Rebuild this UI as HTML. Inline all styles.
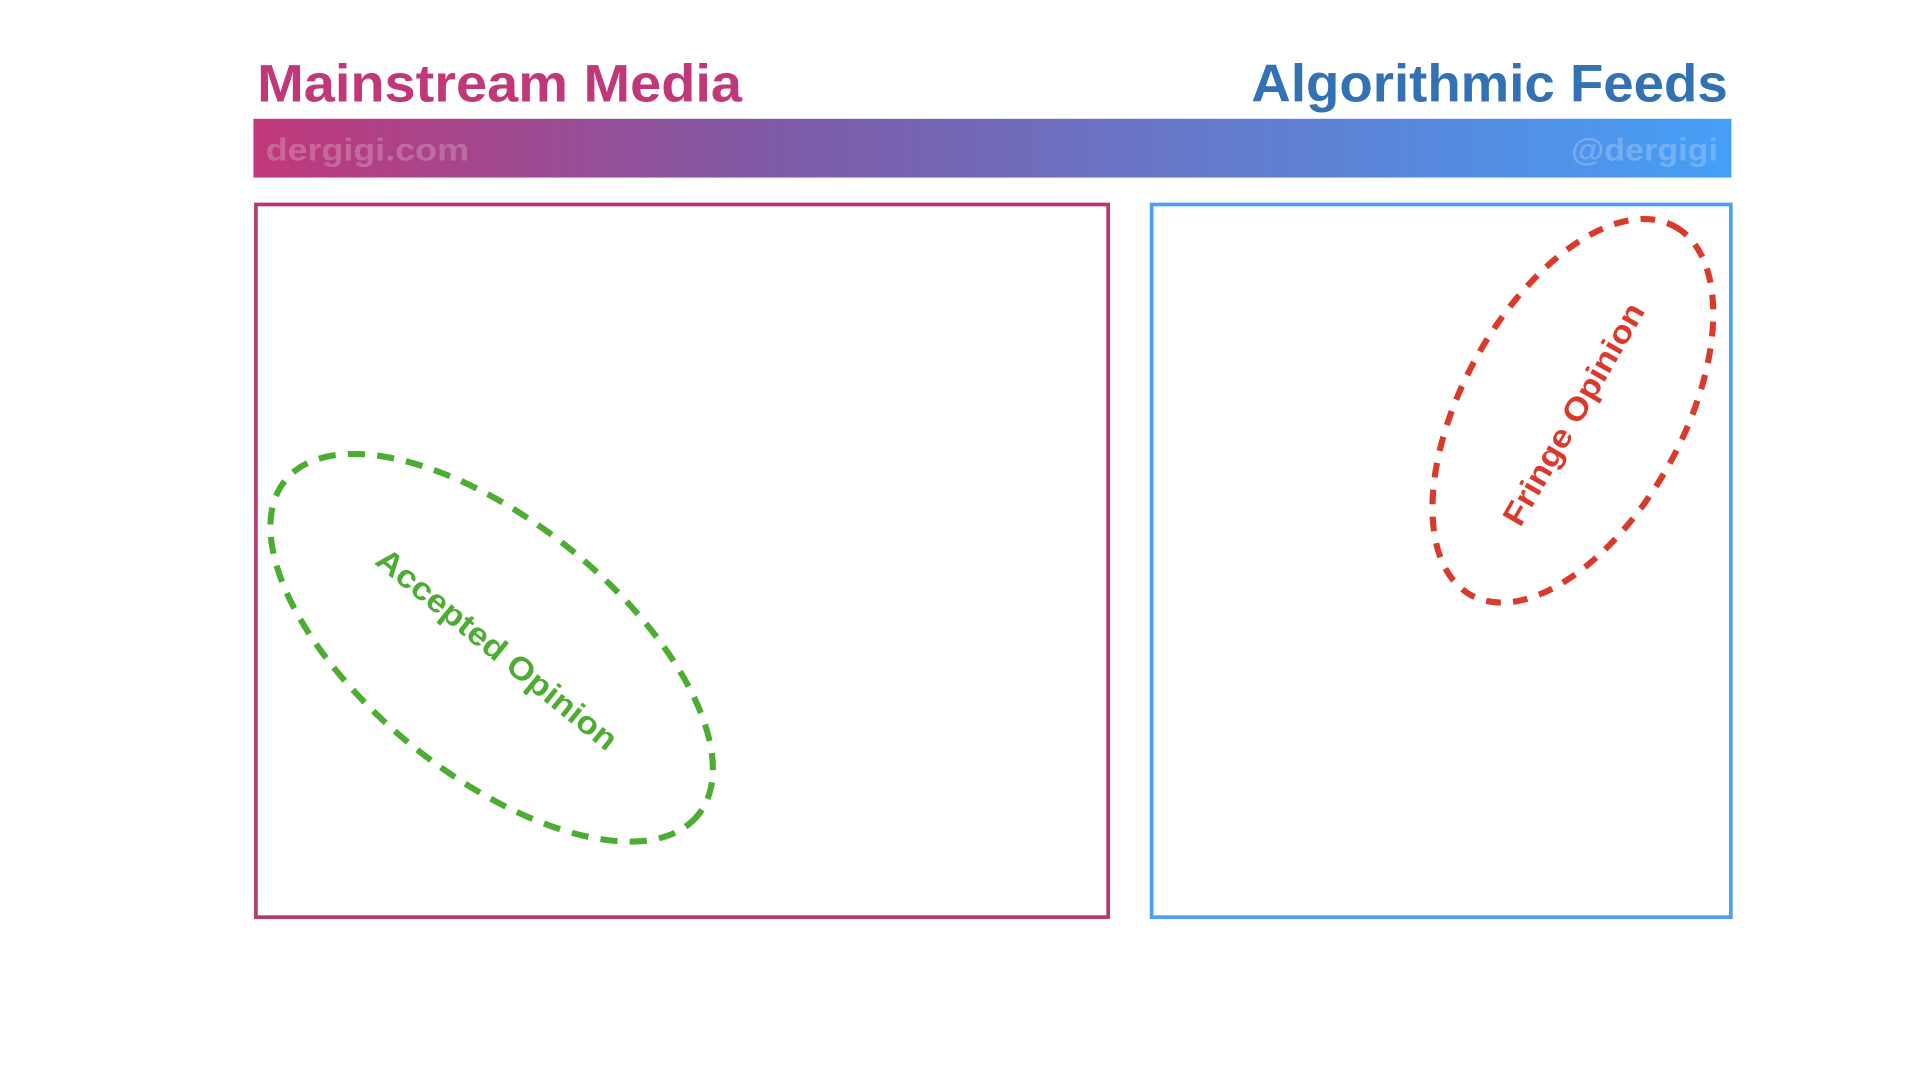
<!DOCTYPE html>
<html><head><meta charset="utf-8"><style>
html,body{margin:0;padding:0;background:#fff;width:1920px;height:1080px;overflow:hidden}
#w{width:1568px;height:882px;transform:scale(1.22449);transform-origin:0 0;position:relative}
svg{position:absolute;left:0;top:0}
text{font-family:"Liberation Sans",sans-serif;font-weight:bold}
</style></head><body><div id="w">
<svg width="1568" height="882" viewBox="0 0 1568 882">
<defs><linearGradient id="g" x1="0" x2="1" y1="0" y2="0"><stop offset="0" stop-color="#c0387a"/><stop offset="0.35" stop-color="#7f5aa6"/><stop offset="1" stop-color="#459ff7"/></linearGradient></defs>
<text x="210" y="83" font-size="43" fill="#c0387a" textLength="396" lengthAdjust="spacingAndGlyphs">Mainstream Media</text>
<text x="1022" y="83" font-size="43" fill="#3371b5" textLength="389" lengthAdjust="spacingAndGlyphs">Algorithmic Feeds</text>
<rect x="207" y="97" width="1207" height="48" fill="url(#g)"/>
<text x="217" y="131" font-size="26" fill="#fff" fill-opacity="0.22" textLength="166" lengthAdjust="spacingAndGlyphs">dergigi.com</text>
<text x="1283" y="131" font-size="26" fill="#fff" fill-opacity="0.22" textLength="120" lengthAdjust="spacingAndGlyphs">@dergigi</text>
<rect x="209" y="167" width="696" height="582" fill="none" stroke="#b8376f" stroke-width="3"/>
<rect x="940.5" y="167" width="473" height="582" fill="none" stroke="#4a9ff5" stroke-width="3"/>
<ellipse cx="401.5" cy="529" rx="217" ry="103" transform="rotate(39 401.5 529)" fill="none" stroke="#4dad33" stroke-width="5" stroke-dasharray="14 10"/>
<text x="406" y="539" font-size="26" fill="#4dad33" text-anchor="middle" transform="rotate(39 406 530)" textLength="245" lengthAdjust="spacingAndGlyphs">Accepted Opinion</text>
<ellipse cx="1284.5" cy="335.5" rx="172" ry="90" transform="rotate(-61 1284.5 335.5)" fill="none" stroke="#d93a2b" stroke-width="5" stroke-dasharray="12 10"/>
<text x="1285" y="347" font-size="26" fill="#d93a2b" text-anchor="middle" transform="rotate(-60 1285 338)" textLength="205" lengthAdjust="spacingAndGlyphs">Fringe Opinion</text>
</svg></div></body></html>
